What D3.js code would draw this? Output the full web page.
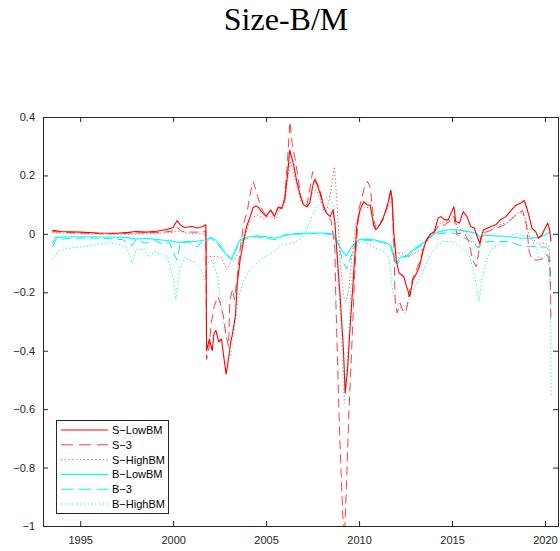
<!DOCTYPE html>
<html><head><meta charset="utf-8">
<script src="https://cdn.jsdelivr.net/npm/d3@7"></script>
<style>body{margin:0;background:#fff;} svg{display:block;}</style>
</head><body>
<svg id="chart" width="560" height="551"></svg>
<script>
const title = "Size-B/M";
const seriesNames = ["S-LowBM","S-3","S-HighBM","B-LowBM","B-3","B-HighBM"];
const xTicks = [1995,2000,2005,2010,2015,2020];
const yTicks = [0.4,0.2,0,-0.2,-0.4,-0.6,-0.8,-1];
const yTickLabels = ["0.4","0.2","0","\u22120.2","\u22120.4","\u22120.6","\u22120.8","\u22121"];

const sLowDates = [1993.5,1994.0,1995.0,1996.0,1997.0,1997.6,1998.0,1998.6,1999.2,1999.7,2000.0,2000.2,2000.4,2000.6,2001.0,2001.3,2001.6,2001.76,2001.80,2001.95,2002.1,2002.2,2002.3,2002.45,2002.6,2002.7,2002.85,2002.95,2003.1,2003.2,2003.35,2003.45,2003.6,2003.8,2003.95,2004.15,2004.3,2004.45,2004.6,2004.75,2005.0,2005.25,2005.45,2005.65,2005.85,2006.0,2006.15,2006.27,2006.38,2006.5,2006.65,2006.85,2007.0,2007.2,2007.35,2007.5,2007.6,2007.75,2007.9,2008.1,2008.25,2008.45,2008.6,2008.7,2008.8,2008.98,2009.16,2009.25,2009.38,2009.52,2009.7,2009.88,2010.05,2010.25,2010.45,2010.6,2010.8,2010.9,2011.1,2011.25,2011.45,2011.6,2011.7,2011.78,2011.87,2012.0,2012.15,2012.4,2012.55,2012.73,2012.9,2013.1,2013.25,2013.45,2013.6,2013.8,2014.05,2014.25,2014.4,2014.6,2014.8,2014.95,2015.1,2015.2,2015.4,2015.6,2015.8,2016.0,2016.2,2016.35,2016.5,2016.6,2016.7,2016.9,2017.1,2017.35,2017.6,2017.9,2018.2,2018.45,2018.7,2018.88,2019.0,2019.15,2019.3,2019.5,2019.65,2019.85,2020.0,2020.15,2020.25,2020.32];
const sLowValues = [0.012,0.008,0.006,0.003,0.002,0.005,0.008,0.006,0.01,0.016,0.022,0.045,0.03,0.022,0.025,0.02,0.025,0.031,-0.40,-0.36,-0.40,-0.34,-0.33,-0.37,-0.36,-0.41,-0.48,-0.44,-0.37,-0.34,-0.28,-0.17,-0.09,-0.02,0.025,0.06,0.09,0.095,0.09,0.076,0.06,0.082,0.06,0.092,0.088,0.12,0.2,0.287,0.262,0.23,0.18,0.13,0.1,0.093,0.105,0.162,0.185,0.168,0.139,0.093,0.071,0.059,0.082,0.037,-0.055,-0.214,-0.397,-0.545,-0.465,-0.317,-0.146,0.025,0.082,0.11,0.099,0.099,0.025,0.014,0.03,0.048,0.082,0.116,0.15,0.12,0.002,-0.089,-0.134,-0.146,-0.18,-0.214,-0.157,-0.134,-0.112,-0.055,-0.026,-0.003,0.008,0.054,0.059,0.048,0.048,0.071,0.093,0.042,0.037,0.076,0.06,0.025,0.019,-0.009,-0.032,-0.005,0.014,0.019,0.025,0.031,0.048,0.059,0.082,0.099,0.105,0.114,0.093,0.059,0.019,0.008,-0.015,-0.003,0.019,0.037,0.014,-0.026];

const s3Dates = [1993.5,1994.5,1995.5,1996.5,1997.5,1998.5,1999.5,2000.0,2000.2,2000.5,2001.0,2001.5,2001.76,2001.80,2001.95,2002.05,2002.2,2002.4,2002.5,2002.7,2002.85,2002.98,2003.05,2003.2,2003.3,2003.45,2003.6,2003.8,2004.0,2004.15,2004.3,2004.45,2004.6,2004.8,2005.0,2005.25,2005.45,2005.65,2005.85,2006.0,2006.15,2006.28,2006.4,2006.55,2006.7,2006.85,2007.0,2007.2,2007.35,2007.5,2007.7,2007.9,2008.1,2008.3,2008.5,2008.7,2008.75,2008.95,2009.15,2009.22,2009.35,2009.45,2009.6,2009.8,2009.98,2010.15,2010.3,2010.45,2010.6,2010.75,2010.9,2011.1,2011.3,2011.5,2011.65,2011.75,2011.85,2011.95,2012.05,2012.2,2012.4,2012.55,2012.7,2012.9,2013.1,2013.3,2013.5,2013.7,2014.0,2014.3,2014.6,2014.9,2015.1,2015.25,2015.45,2015.65,2015.85,2016.0,2016.1,2016.3,2016.42,2016.55,2016.75,2017.0,2017.4,2017.8,2018.2,2018.5,2018.8,2019.0,2019.15,2019.3,2019.6,2019.9,2020.05,2020.2,2020.28,2020.32];
const s3Values = [0.008,0.004,0.002,0.0,0.002,0.004,0.006,0.01,0.022,0.008,0.006,0.006,0.01,-0.43,-0.38,-0.305,-0.25,-0.214,-0.23,-0.28,-0.35,-0.385,-0.226,-0.19,-0.226,-0.146,-0.055,0.037,0.082,0.139,0.179,0.15,0.116,0.08,0.065,0.08,0.06,0.09,0.085,0.12,0.25,0.384,0.31,0.26,0.2,0.13,0.1,0.1,0.15,0.213,0.18,0.15,0.093,0.06,0.045,-0.05,-0.226,-0.68,-1.0,-1.03,-0.81,-0.62,-0.40,-0.089,0.082,0.122,0.162,0.18,0.16,0.07,0.015,0.03,0.05,0.09,0.13,0.145,0.0,-0.237,-0.271,-0.237,-0.27,-0.26,-0.2,-0.15,-0.12,-0.09,-0.04,-0.01,0.0,0.03,0.03,0.045,0.06,0.0,0.002,0.005,-0.02,-0.055,-0.089,-0.112,-0.07,-0.01,0.005,0.01,0.02,0.03,0.05,0.07,0.08,0.03,-0.06,-0.089,-0.09,-0.085,-0.07,-0.08,-0.123,-0.294];

const sHighDates = [1993.5,1995,1997,1998.5,2000,2000.2,2001,2001.76,2001.80,2002.3,2002.6,2002.8,2002.88,2003.05,2003.3,2003.6,2003.9,2004.15,2004.5,2004.85,2005.2,2005.5,2005.7,2006.0,2006.15,2006.3,2006.45,2006.7,2006.9,2007.2,2007.5,2007.7,2007.9,2008.1,2008.25,2008.45,2008.6,2008.68,2008.82,2008.98,2009.16,2009.3,2009.45,2009.6,2009.8,2010.0,2010.3,2010.6,2010.8,2011.0,2011.3,2011.6,2011.75,2011.88,2012.0,2012.3,2012.55,2012.75,2013.0,2013.35,2013.7,2014.0,2014.4,2014.8,2015.1,2015.3,2015.6,2015.9,2016.2,2016.4,2016.6,2017.0,2017.5,2018.0,2018.5,2018.8,2019.0,2019.15,2019.4,2019.65,2020.0,2020.2,2020.3];
const sHighValues = [0.004,0.0,-0.002,0.0,0.005,0.01,0.0,0.0,-0.077,-0.077,-0.08,-0.112,-0.123,-0.1,-0.09,-0.055,0.0,0.048,0.065,0.054,0.06,0.05,0.08,0.1,0.18,0.25,0.22,0.15,0.11,0.09,0.14,0.15,0.12,0.08,0.08,0.133,0.2,0.23,0.1,-0.089,-0.214,-0.231,-0.19,-0.09,0.025,0.07,0.09,0.09,0.03,0.02,0.05,0.1,0.12,-0.02,-0.066,-0.066,-0.077,-0.077,-0.066,-0.055,-0.02,0.0,0.04,0.04,0.06,0.02,0.01,0.0,-0.03,-0.05,-0.01,0.01,0.03,0.04,0.071,0.071,0.04,-0.009,-0.02,-0.037,-0.03,-0.04,-0.1];

const bLowDates = [1993.5,1993.7,1994.5,1995.5,1996.5,1997.5,1998.0,1998.5,1999.0,1999.5,2000.0,2000.3,2000.7,2001.2,2001.6,2001.75,2002.0,2002.25,2002.5,2002.8,2003.0,2003.15,2003.3,2003.6,2004.0,2004.5,2005.0,2005.5,2005.8,2006.0,2006.5,2007.0,2007.5,2008.0,2008.6,2008.8,2009.0,2009.3,2009.5,2009.8,2010.0,2010.4,2010.8,2011.2,2011.5,2011.7,2011.8,2011.9,2012.0,2012.3,2012.5,2012.7,2013.1,2013.4,2013.8,2014.2,2014.6,2015.0,2015.5,2016.0,2016.3,2016.5,2016.8,2017.3,2018.0,2018.7,2019.2,2019.7,2020.0,2020.3];
const bLowValues = [-0.032,-0.012,-0.01,-0.01,-0.011,-0.012,-0.018,-0.015,-0.018,-0.022,-0.025,-0.03,-0.026,-0.026,-0.022,-0.02,-0.012,-0.02,-0.037,-0.066,-0.077,-0.085,-0.06,-0.02,-0.011,-0.007,-0.01,-0.015,-0.01,-0.003,0.0,0.002,0.003,0.003,0.0,-0.02,-0.05,-0.075,-0.055,-0.03,-0.02,-0.018,-0.02,-0.026,-0.032,-0.04,-0.055,-0.089,-0.1,-0.075,-0.08,-0.065,-0.045,-0.034,-0.009,0.005,0.012,0.014,0.012,0.006,0.002,-0.011,-0.005,-0.007,-0.009,-0.015,-0.015,-0.012,-0.005,0.008];

const b3Dates = [1993.5,1993.7,1994.5,1995.5,1996.5,1997.3,1997.8,1998.0,1998.5,1999.0,1999.4,1999.8,2000.2,2000.4,2000.8,2001.3,2001.5,2001.75,2002.0,2002.3,2002.6,2002.9,2003.15,2003.35,2003.6,2004.0,2004.5,2005.0,2005.5,2005.8,2006.0,2006.5,2007.0,2007.5,2008.0,2008.6,2008.9,2009.15,2009.35,2009.55,2009.8,2010.0,2010.5,2010.9,2011.3,2011.7,2011.95,2012.1,2012.4,2012.7,2013.1,2013.5,2013.8,2014.3,2014.8,2015.2,2015.6,2016.0,2016.3,2016.45,2016.6,2017.0,2017.6,2018.2,2018.8,2019.4,2019.8,2020.05,2020.2,2020.3];
const b3Values = [-0.045,-0.02,-0.015,-0.014,-0.016,-0.02,-0.04,-0.02,-0.032,-0.022,-0.035,-0.03,-0.09,-0.03,-0.028,-0.045,-0.03,-0.03,-0.015,-0.03,-0.05,-0.075,-0.09,-0.06,-0.025,-0.015,-0.01,-0.015,-0.02,-0.012,-0.005,-0.002,0.0,0.001,0.001,-0.003,-0.04,-0.1,-0.12,-0.08,-0.035,-0.022,-0.022,-0.025,-0.03,-0.045,-0.1,-0.1,-0.08,-0.075,-0.05,-0.035,-0.012,0.0,0.005,0.0,-0.012,-0.025,-0.04,-0.049,-0.03,-0.026,-0.026,-0.028,-0.043,-0.043,-0.045,-0.045,-0.055,-0.17];

const bHighDates = [1993.5,1993.8,1994.3,1995.0,1995.5,1996.0,1996.5,1997.0,1997.5,1997.8,1998.0,1998.4,1998.7,1999.0,1999.4,1999.7,2000.0,2000.15,2000.35,2000.6,2000.9,2001.2,2001.5,2001.7,2001.85,2002.1,2002.4,2002.7,2002.9,2003.1,2003.3,2003.5,2003.8,2004.1,2004.5,2004.9,2005.3,2005.8,2006.5,2007.0,2007.4,2007.7,2008.0,2008.4,2008.6,2008.8,2009.0,2009.2,2009.35,2009.55,2009.8,2010.1,2010.5,2010.9,2011.3,2011.6,2011.8,2011.95,2012.2,2012.5,2012.75,2013.0,2013.3,2013.55,2013.8,2014.15,2014.5,2015.0,2015.5,2015.9,2016.1,2016.3,2016.45,2016.6,2016.8,2017.1,2017.6,2018.1,2018.5,2018.8,2019.2,2019.5,2019.7,2019.95,2020.15,2020.25,2020.3,2020.33];
const bHighValues = [-0.087,-0.06,-0.05,-0.045,-0.04,-0.035,-0.03,-0.035,-0.045,-0.1,-0.055,-0.05,-0.08,-0.06,-0.07,-0.08,-0.15,-0.226,-0.12,-0.08,-0.09,-0.1,-0.12,-0.157,-0.1,-0.09,-0.15,-0.3,-0.36,-0.42,-0.33,-0.22,-0.16,-0.123,-0.1,-0.08,-0.066,-0.04,-0.03,-0.01,0.05,0.093,0.11,0.13,0.1,-0.05,-0.3,-0.58,-0.45,-0.2,-0.05,-0.02,-0.035,-0.05,-0.06,-0.08,-0.19,-0.237,-0.25,-0.271,-0.214,-0.18,-0.146,-0.112,-0.077,-0.043,-0.026,-0.026,-0.045,-0.066,-0.112,-0.169,-0.231,-0.16,-0.1,-0.055,-0.032,-0.01,0.002,-0.005,-0.009,-0.043,-0.083,-0.08,-0.07,-0.123,-0.237,-0.556];

const seriesDates = [sLowDates,s3Dates,sHighDates,bLowDates,b3Dates,bHighDates];
const seriesValues = [sLowValues,s3Values,sHighValues,bLowValues,b3Values,bHighValues];
const seriesColors = ["#ff0000","#ff4040","#ff5050","#00ffff","#00f0f0","#00f0f0"];
const seriesDash = [null,"9,5","1.2,2.4",null,"9,5","1.2,2.4"];
const seriesWidth = [1.1,1,1,1.1,1,1];

const svg = d3.select("#chart");
const L = 43, R = 558, T = 117, B = 526;
const x = d3.scaleLinear().domain([1993.0, 2020.7]).range([L, R]);
const y = d3.scaleLinear().domain([-1, 0.4]).range([B, T]);
const axisColor = "#262626";
const font = "'Liberation Sans', Arial, Helvetica, sans-serif";

svg.append("text").attr("x", 286).attr("y", 30).attr("text-anchor", "middle")
  .attr("font-family", "'Liberation Serif', 'Times New Roman', serif").attr("font-size", 32)
  .attr("fill", "#000").text(title);

svg.append("clipPath").attr("id", "clip").append("rect")
  .attr("x", L).attr("y", T).attr("width", R - L).attr("height", B - T);

const line = d3.line().x(d => x(d[0])).y(d => y(d[1]));
const g = svg.append("g").attr("clip-path", "url(#clip)");
// draw order: B series first then S series on top
[5,4,3,2,1,0].forEach(i => {
  const pts = seriesDates[i].map((d, k) => [d, seriesValues[i][k]]);
  g.append("path").datum(pts).attr("d", line).attr("fill", "none")
    .attr("stroke", seriesColors[i]).attr("stroke-width", seriesWidth[i])
    .attr("stroke-dasharray", seriesDash[i]).attr("stroke-linejoin", "round");
});

// axes (MATLAB-style box with inward ticks)
const xb = svg.append("g").attr("transform", `translate(0,${B})`)
  .call(d3.axisBottom(x).tickValues(xTicks).tickFormat(d3.format("d")).tickSizeInner(-5).tickSizeOuter(0).tickPadding(10));
const xt = svg.append("g").attr("transform", `translate(0,${T})`)
  .call(d3.axisTop(x).tickValues(xTicks).tickFormat("").tickSizeInner(-5).tickSizeOuter(0));
const yl = svg.append("g").attr("transform", `translate(${L},0)`)
  .call(d3.axisLeft(y).tickValues(yTicks).tickFormat((d, i) => yTickLabels[i]).tickSizeInner(-5).tickSizeOuter(0).tickPadding(8));
const yr = svg.append("g").attr("transform", `translate(${R},0)`)
  .call(d3.axisRight(y).tickValues(yTicks).tickFormat("").tickSizeInner(-5).tickSizeOuter(0));
[xb, xt, yl, yr].forEach(a => {
  a.selectAll("path.domain").attr("stroke", axisColor).attr("stroke-width", 1);
  a.selectAll(".tick line").attr("stroke", axisColor);
  a.selectAll("text").attr("font-family", font).attr("font-size", 11).attr("fill", "#262626");
});

// legend
const lg = svg.append("g");
lg.append("rect").attr("x", 56.5).attr("y", 420.5).attr("width", 112).attr("height", 93)
  .attr("fill", "#fff").attr("stroke", axisColor).attr("stroke-width", 1);
seriesNames.forEach((name, i) => {
  const yy = 430 + i * 14.8;
  lg.append("line").attr("x1", 61).attr("x2", 108).attr("y1", yy).attr("y2", yy)
    .attr("stroke", seriesColors[i]).attr("stroke-width", seriesWidth[i])
    .attr("stroke-dasharray", seriesDash[i] === null ? null : (seriesDash[i] === "9,5" ? "12,6" : "1.2,2.6"));
  lg.append("text").attr("x", 112).attr("y", yy + 4).attr("font-family", font)
    .attr("font-size", 11).attr("fill", "#000").text(name.replace("-", "\u2212"));
});
</script>
</body></html>
